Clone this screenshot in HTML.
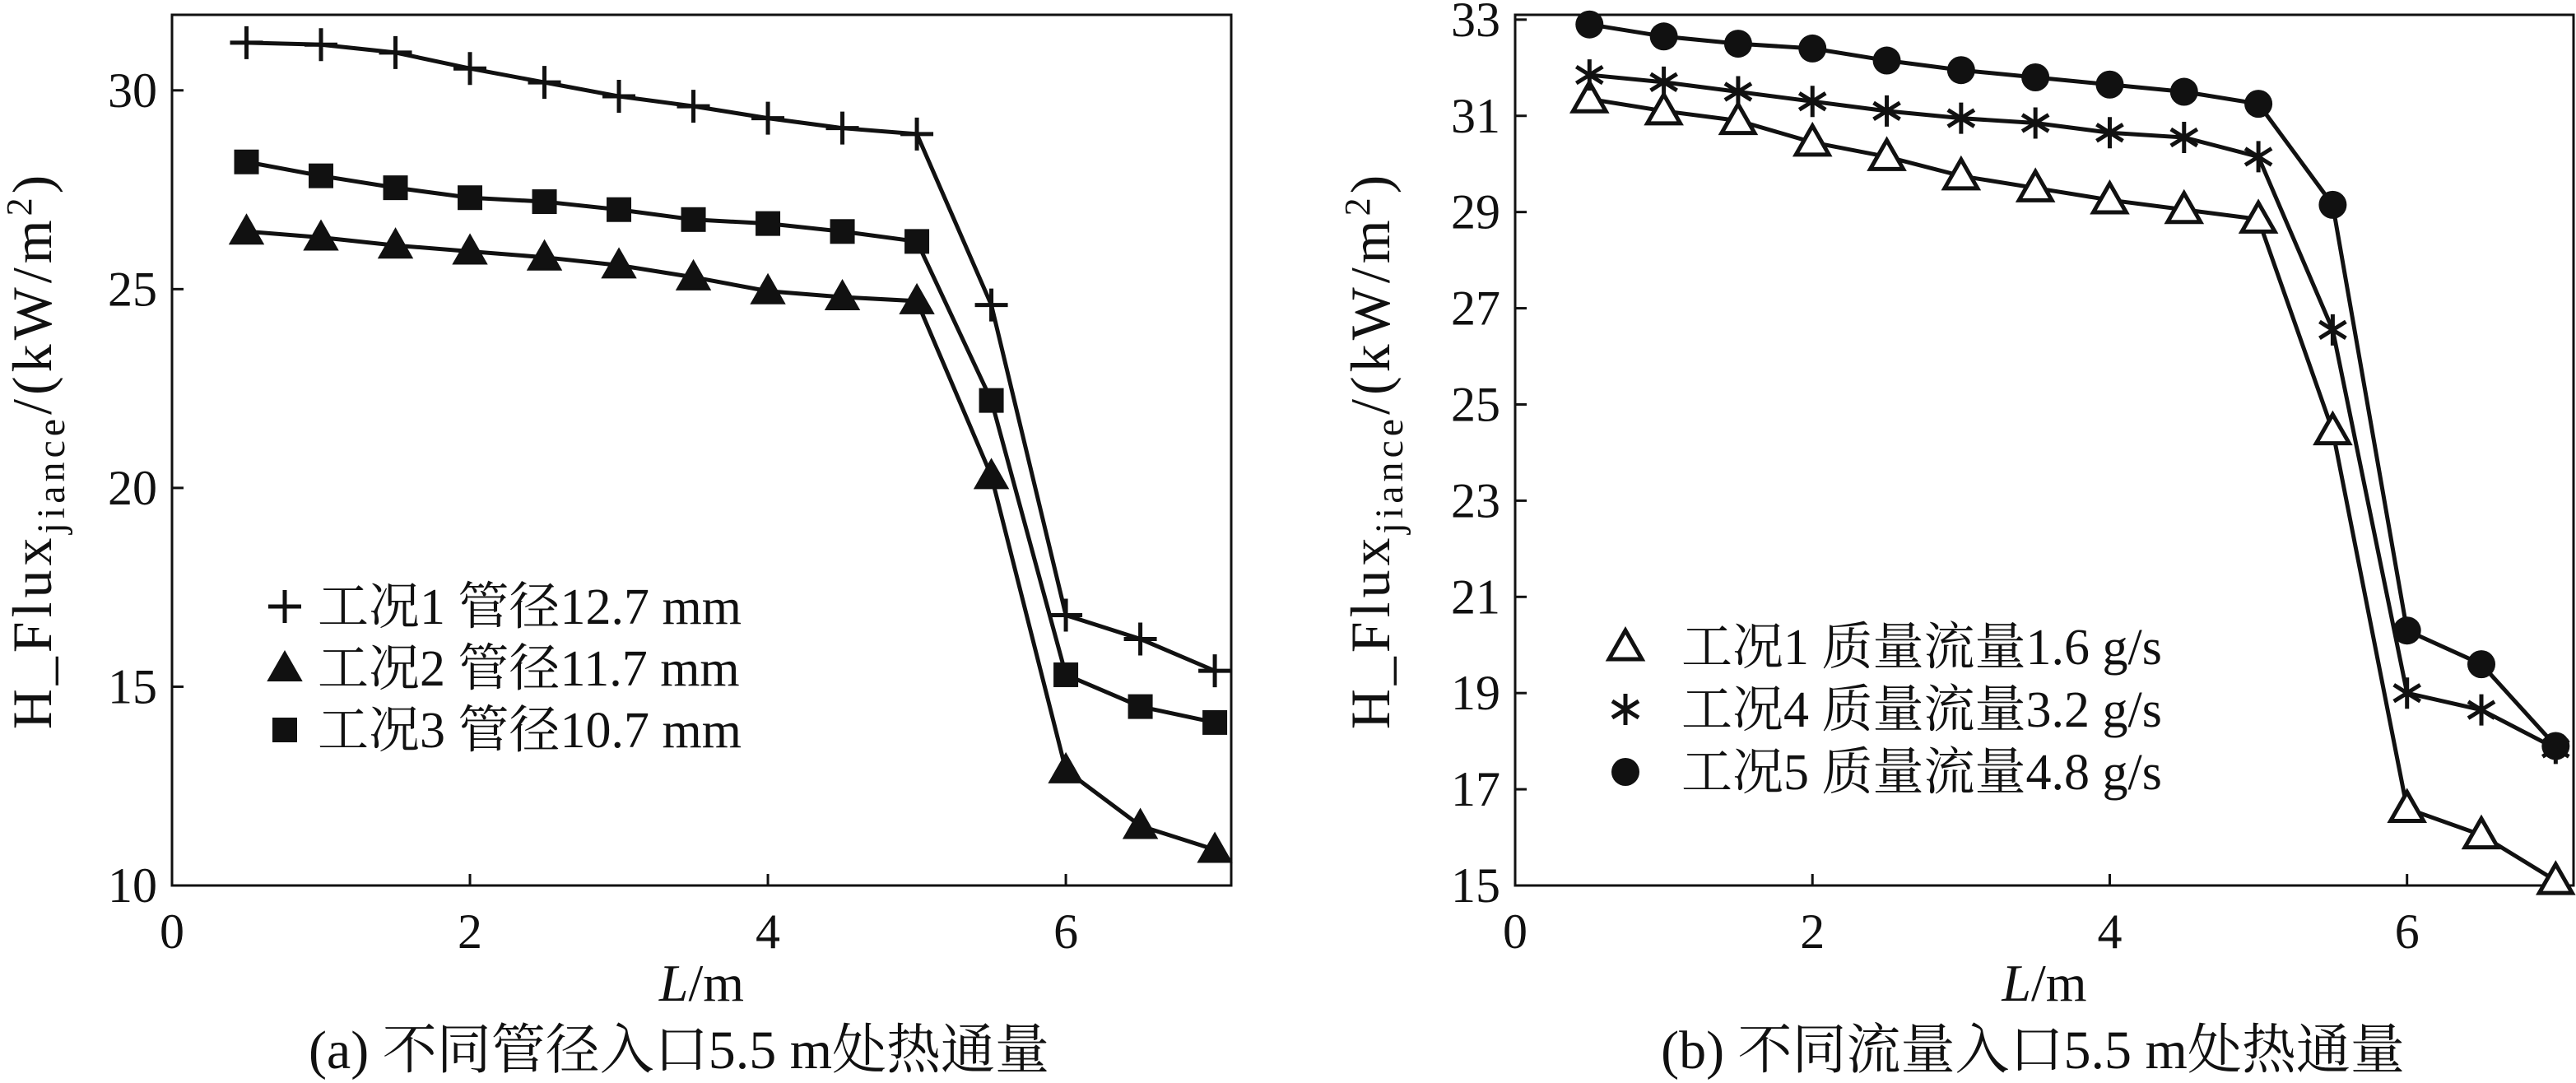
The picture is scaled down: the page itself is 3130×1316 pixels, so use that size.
<!DOCTYPE html>
<html><head><meta charset="utf-8"><style>
body{margin:0;background:#fff}
svg{display:block;font-family:"Liberation Serif","Noto Serif CJK SC",serif}
</style></head><body>
<svg id="svg" width="3130" height="1316" viewBox="0 0 3130 1316"></svg>
<script>
const xVals=[0.5,1,1.5,2,2.5,3,3.5,4,4.5,5,5.5,6,6.5,7];
const aPipe127=[31.2,31.15,30.95,30.55,30.2,29.85,29.6,29.3,29.05,28.9,24.6,16.8,16.2,15.4];
const aPipe117=[26.45,26.3,26.1,25.95,25.8,25.6,25.3,24.95,24.8,24.7,20.3,12.9,11.5,10.9];
const aPipe107=[28.2,27.85,27.55,27.3,27.2,27.0,26.75,26.65,26.45,26.2,22.2,15.3,14.5,14.1];
const bFlow16=[31.35,31.1,30.9,30.45,30.15,29.75,29.5,29.25,29.05,28.85,24.45,16.6,16.05,15.1];
const bFlow32=[31.85,31.7,31.5,31.3,31.1,30.95,30.85,30.65,30.55,30.15,26.55,19.0,18.65,17.85];
const bFlow48=[32.9,32.65,32.5,32.4,32.15,31.95,31.8,31.65,31.5,31.25,29.15,20.3,19.6,17.9];
const xTicks=[0,2,4,6];
const aYTicks=[10,15,20,25,30];
const bYTicks=[15,17,19,21,23,25,27,29,31,33];
const aLegend=["工况1 管径12.7 mm","工况2 管径11.7 mm","工况3 管径10.7 mm"];
const bLegend=["工况1 质量流量1.6 g/s","工况4 质量流量3.2 g/s","工况5 质量流量4.8 g/s"];

const NS="http://www.w3.org/2000/svg";
const svg=document.getElementById('svg');
function mk(tag,attrs,parent,text){const e=document.createElementNS(NS,tag);for(const k in attrs)e.setAttribute(k,attrs[k]);if(text!==undefined)e.textContent=text;(parent||svg).appendChild(e);return e;}

function marker(g,type,cx,cy){
  let e;
  if(type==='plus'){e=mk('path',{d:`M${cx-20},${cy}H${cx+20}M${cx},${cy-20}V${cy+20}`,stroke:'#111','stroke-width':5,fill:'none'},g);}
  else if(type==='tri'||type==='otri'){e=mk('polygon',{points:`${cx},${cy-20} ${cx-20},${cy+15} ${cx+20},${cy+15}`,fill:type==='tri'?'#111':'#fff',stroke:'#111','stroke-width':type==='tri'?2:5},g);}
  else if(type==='sq'){e=mk('rect',{x:cx-15,y:cy-15,width:30,height:30,fill:'#111'},g);}
  else if(type==='star'){e=mk('path',{d:`M${cx},${cy-19}V${cy+19}M${cx-16},${cy-10}L${cx+16},${cy+10}M${cx-16},${cy+10}L${cx+16},${cy-10}`,stroke:'#111','stroke-width':5,fill:'none'},g);}
  else {e=mk('circle',{cx:cx,cy:cy,r:17,fill:'#111'},g);}
  
  
}

function chart(o){
  const g=mk('g',{});
  
  
  const X=v=>o.x0+(v-0)*(o.x1-o.x0)/o.xmax;
  const Y=v=>o.y1-(v-o.ymin)*(o.y1-o.y0)/(o.ymax-o.ymin);
  const box=mk('rect',{x:o.x0,y:o.y0,width:o.x1-o.x0,height:o.y1-o.y0,fill:'none',stroke:'#111','stroke-width':3},g);
  
  
  xTicks.forEach(t=>{
    const x=X(t);
    if(t>0){const tk=mk('line',{x1:x,x2:x,y1:o.y1,y2:o.y1-14,stroke:'#111','stroke-width':3},g);
      }
    const tl=mk('text',{x:x,y:o.y1+76,'font-size':60,'text-anchor':'middle',fill:'#111'},g,String(t));
    
  });
  o.yTicks.forEach(t=>{
    const y=Y(t);
    if(t>o.ymin&&t<o.ymax){const tk=mk('line',{x1:o.x0,x2:o.x0+14,y1:y,y2:y,stroke:'#111','stroke-width':3},g);
      }
    const tl=mk('text',{x:o.x0-18,y:y+20,'font-size':60,'text-anchor':'end',fill:'#111'},g,String(t));
    
  });
  o.series.forEach(s=>{
    const sg=mk('g',{},g);
    
    
    const pl=mk('polyline',{points:s.data.map((v,i)=>X(xVals[i])+','+Y(v)).join(' '),fill:'none',stroke:'#111','stroke-width':5},sg);
    
    s.data.forEach((v,i)=>marker(sg,s.m,X(xVals[i]),Y(v)));
  });
  const lg=mk('g',{},g);
  
  
  o.series.forEach((s,i)=>{
    const y=o.legY+i*o.legDy;
    marker(lg,s.m,o.legX,y);
    const t=mk('text',{x:o.legX+o.legTx,y:y+21,'font-size':62,fill:'#111'},lg,o.legend[i]);
    
  });
  const xl=mk('text',{x:(o.x0+o.x1)/2,y:o.y1+140,'font-size':64,'text-anchor':'middle',fill:'#111'},g);
  
  mk('tspan',{'font-style':'italic'},xl,'L');mk('tspan',{},xl,'/m');
  const yl=mk('text',{x:0,y:0,'font-size':68,'text-anchor':'middle',fill:'#111',transform:`translate(${o.ylx},${(o.y0+o.y1)/2}) rotate(-90)`,'letter-spacing':5},g);
  
  mk('tspan',{},yl,'H_Flux');mk('tspan',{'font-size':48,dy:16},yl,'jiance');mk('tspan',{dy:-16},yl,'/(kW/m');mk('tspan',{'font-size':44,dy:-24},yl,'2');mk('tspan',{dy:24},yl,')');
  const cp=mk('text',{x:o.capX,y:1298,'font-size':66,'text-anchor':'middle',fill:'#111'},g,o.caption);
  
}

chart({name:'chart-a',x0:209,x1:1496,y0:18,y1:1076,xmax:7.11,ymin:10,ymax:31.9,yTicks:aYTicks,
  series:[{name:'pipe-12.7',data:aPipe127,m:'plus'},{name:'pipe-11.7',data:aPipe117,m:'tri'},{name:'pipe-10.7',data:aPipe107,m:'sq'}],
  legend:aLegend,legX:346,legTx:40,legY:737,legDy:75,ylx:62,capX:825,caption:'(a) 不同管径入口5.5 m处热通量'});
chart({name:'chart-b',x0:1841,x1:3127,y0:18,y1:1076,xmax:7.12,ymin:15,ymax:33.1,yTicks:bYTicks,
  series:[{name:'flow-1.6',data:bFlow16,m:'otri'},{name:'flow-3.2',data:bFlow32,m:'star'},{name:'flow-4.8',data:bFlow48,m:'dot'}],
  legend:bLegend,legX:1975,legTx:68,legY:786,legDy:76,ylx:1688,capX:2470,caption:'(b) 不同流量入口5.5 m处热通量'});
</script>
</body></html>
